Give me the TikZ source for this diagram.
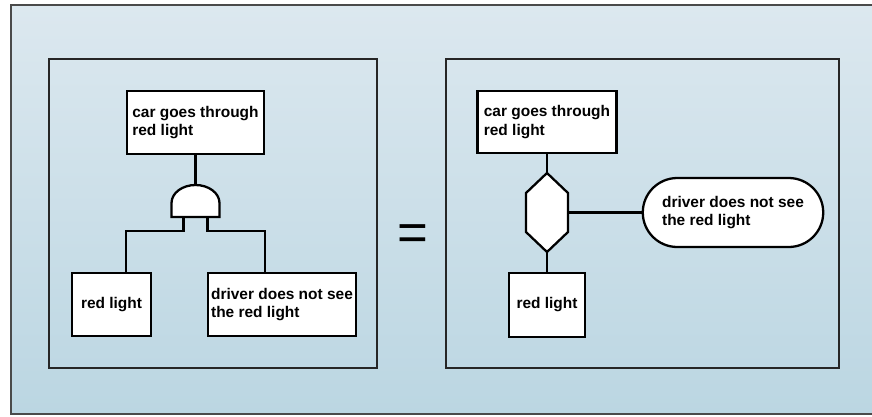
\documentclass[tikz,border=0pt]{standalone}
\usepackage{fontspec}
\setmainfont{Liberation Sans}
\usetikzlibrary{shapes.misc,calc}
\definecolor{bgtop}{HTML}{DCE8EF}
\definecolor{bgbot}{HTML}{BBD6E2}
\definecolor{framegray}{HTML}{4A4A4A}

\begin{document}
\begin{tikzpicture}[
    x=0.02cm, y=-0.02cm,
    every node/.style={font=\bfseries\fontsize{8.8}{10.5}\selectfont},
    event/.style={draw, fill=white, line width=1.3pt, inner sep=1pt, align=left, minimum height=1.26cm},
    cond/.style={draw, fill=white, line width=1.3pt, rounded rectangle, inner sep=1pt, align=left, minimum width=3.68cm, minimum height=1.38cm},
    panel/.style={draw=black!85, line width=1.5pt},
    link/.style={line width=1.3pt},
  ]
  \useasboundingbox (0,0) rectangle (872,416);

  % Background frame
  \shade[top color=bgtop, bottom color=bgbot] (11,5) rectangle (890,414);
  \draw[framegray, line width=1.6pt] (890,5) -- (11,5) -- (11,414) -- (890,414);

  % Panels
  \draw[panel] (49,59) rectangle (377,368);
  \draw[panel] (446,59) rectangle (839,368);

  % Left tree
  \node[event, minimum width=2.74cm] (top) at (195.5,122.5) {car goes through\\red light};
  \node[event, minimum width=1.58cm] (rl1) at (111.5,304.5) {red light};
  \node[event, minimum width=2.96cm] (drv1) at (282,304.5) {driver does not see\\the red light};

  % AND gate
  \coordinate (gate) at (195.5,185);
  \coordinate (gL) at (183.5,217);
  \coordinate (gR) at (207.5,217);
  \draw[link, fill=white] (171.5,217) -- (171.5,203)
    arc[start angle=180, end angle=0, x radius=0.48cm, y radius=0.36cm] -- (219.5,217) -- cycle;

  \draw[link] (top.south) -- (gate);
  \draw[link] (gL) -- ++(0,14) -| (top.south west |- rl1.north);
  \draw[link] (gR) -- ++(0,14) -| (top.south east |- drv1.north);

  % Equals sign
  \node[font=\mdseries\fontsize{30}{30}\selectfont] (eq) at (413,238) {=};

  % Right tree
  \node[event, minimum width=2.78cm, minimum height=1.24cm] (top2) at (547,122) {car goes through\\red light};
  \node[event, minimum width=1.52cm, minimum height=1.28cm] (rl2) at (547,305) {red light};
  \node[cond] (drv2) at (733,212.5) {driver does not see\\the red light};

  % Inhibit gate
  \draw[link, fill=white] (547,173) coordinate (hxt) -- (568,193) -- (568,232)
    -- (547,252) coordinate (hxb) -- (526,232) -- (526,193) -- cycle;
  \coordinate (hxr) at (568,212.5);

  \draw[link] (top2.south) -- (hxt);
  \draw[link] (hxb) -- (rl2.north);
  \draw[link] (hxr) -- (drv2.west);
\end{tikzpicture}
\end{document}
